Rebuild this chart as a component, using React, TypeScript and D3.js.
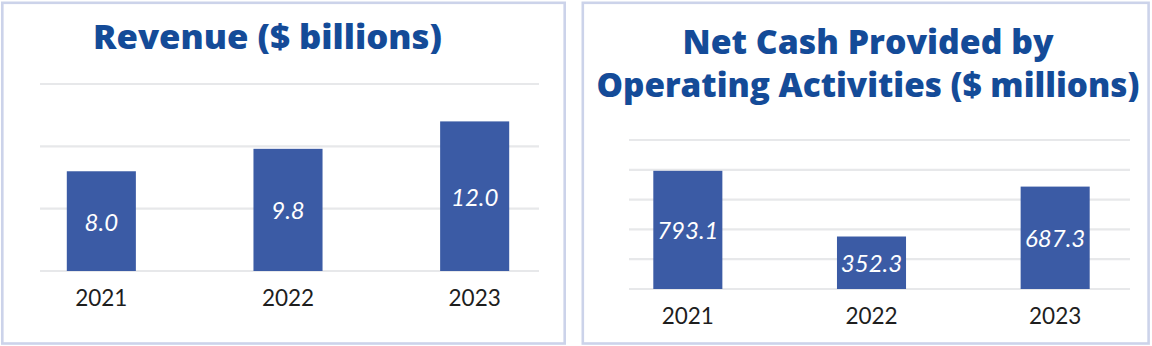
import React from "react";
import * as d3 from "d3";

const years = ["2021", "2022", "2023"];
const revenue = [8.0, 9.8, 12.0];
const revenueLabels = ["8.0", "9.8", "12.0"];
const revenueTicks = [0, 5, 10, 15];
const cash = [793.1, 352.3, 687.3];
const cashLabels = ["793.1", "352.3", "687.3"];
const cashTicks = [0, 200, 400, 600, 800, 1000];

const BAR = "#3b5ba5";
const TITLE = "#144b98";
const GRID = "#e7e8ea";
const BORDER = "#ccd3ea";
const FONT = "Lato, 'Open Sans', sans-serif";
const TITLE_FONT = "'Open Sans', Lato, sans-serif";

type PanelProps = {
  x0: number;
  x1: number;
  titleLines: string[];
  titleWidths: number[];
  titleX: number;
  titleY: number[];
  values: number[];
  labels: string[];
  ticks: number[];
  domainMax: number;
  yBase: number;
  yTop: number;
  gridX0: number;
  gridX1: number;
  bandStart: number;
  bandEnd: number;
  padIn: number;
};

function Panel(p: PanelProps) {
  const x = d3
    .scaleBand<string>()
    .domain(years)
    .range([p.bandStart, p.bandEnd])
    .paddingInner(p.padIn)
    .paddingOuter(p.padIn / 2);
  const y = d3.scaleLinear().domain([0, p.domainMax]).range([p.yBase, p.yTop]);
  return (
    <g>
      <rect
        x={p.x0}
        y={2.8}
        width={p.x1 - p.x0}
        height={340.7}
        fill="#ffffff"
        stroke={BORDER}
        strokeWidth={2.6}
      />
      {p.titleLines.map((t, i) => (
        <text
          key={i}
          x={p.titleX}
          y={p.titleY[i]}
          textAnchor="middle"
          fill={TITLE}
          fontFamily={TITLE_FONT}
          fontWeight={800}
          fontSize={33}
          textLength={p.titleWidths[i]}
          lengthAdjust="spacingAndGlyphs"
        >
          {t}
        </text>
      ))}
      {p.ticks.map((t) => (
        <line
          key={t}
          x1={p.gridX0}
          x2={p.gridX1}
          y1={y(t)}
          y2={y(t)}
          stroke={GRID}
          strokeWidth={2.2}
        />
      ))}
      {years.map((yr, i) => {
        const bx = x(yr) as number;
        const top = y(p.values[i]);
        return (
          <g key={yr}>
            <rect x={bx} y={top} width={x.bandwidth()} height={y(0) - top} fill={BAR} />
            <text
              x={bx + x.bandwidth() / 2}
              y={(top + y(0)) / 2}
              textAnchor="middle"
              dominantBaseline="central"
              fill="#ffffff"
              fontFamily={FONT}
              fontStyle="italic"
              fontSize={24}
            >
              {p.labels[i]}
            </text>
            <text
              x={bx + x.bandwidth() / 2}
              y={y(0) + 35}
              textAnchor="middle"
              fill="#1e1e1e"
              fontFamily={FONT}
              fontSize={22.5}
            >
              {yr}
            </text>
          </g>
        );
      })}
    </g>
  );
}

export default function App() {
  return (
    <svg
      width={1152}
      height={346}
      style={{ position: "absolute", left: 0, top: 0, background: "#ffffff" }}
    >
      <Panel
        x0={2.3}
        x1={564.7}
        titleLines={["Revenue ($ billions)"]}
        titleWidths={[349]}
        titleX={267.5}
        titleY={[49]}
        values={revenue}
        labels={revenueLabels}
        ticks={revenueTicks}
        domainMax={15}
        yBase={271}
        yTop={84}
        gridX0={40}
        gridX1={539}
        bandStart={8}
        bandEnd={568}
        padIn={0.63}
      />
      <Panel
        x0={582.8}
        x1={1148.6}
        titleLines={["Net Cash Provided by", "Operating Activities ($ millions)"]}
        titleWidths={[371, 543]}
        titleX={868}
        titleY={[54, 97]}
        values={cash}
        labels={cashLabels}
        ticks={cashTicks}
        domainMax={1000}
        yBase={289}
        yTop={140}
        gridX0={629}
        gridX1={1130}
        bandStart={596}
        bandEnd={1147}
        padIn={0.624}
      />
    </svg>
  );
}
